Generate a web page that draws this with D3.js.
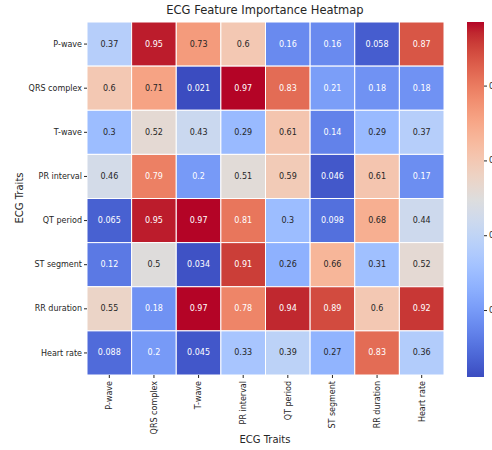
<!DOCTYPE html>
<html lang="en">
<head>
  <meta charset="UTF-8">
  <title>ECG Feature Importance Heatmap</title>
  <style>
    * { padding: 0; margin: 0; }
    body { background: #fff; }
    text { font-family: "DejaVu Sans", sans-serif; }
  </style>
</head>
<body>
  <script src="https://d3js.org/d3.v7.min.js"></script>
  <script>
    const traits = ['P-wave', 'QRS complex', 'T-wave', 'PR interval', 'QT period', 'ST segment', 'RR duration', 'Heart rate'];

    const pWave      = [0.37, 0.95, 0.73, 0.6, 0.16, 0.16, 0.058, 0.87];
    const qrsComplex = [0.6, 0.71, 0.021, 0.97, 0.83, 0.21, 0.18, 0.18];
    const tWave      = [0.3, 0.52, 0.43, 0.29, 0.61, 0.14, 0.29, 0.37];
    const prInterval = [0.46, 0.79, 0.2, 0.51, 0.59, 0.046, 0.61, 0.17];
    const qtPeriod   = [0.065, 0.95, 0.97, 0.81, 0.3, 0.098, 0.68, 0.44];
    const stSegment  = [0.12, 0.5, 0.034, 0.91, 0.26, 0.66, 0.31, 0.52];
    const rrDuration = [0.55, 0.18, 0.97, 0.78, 0.94, 0.89, 0.6, 0.92];
    const heartRate  = [0.088, 0.2, 0.045, 0.33, 0.39, 0.27, 0.83, 0.36];

    const rows = [pWave, qrsComplex, tWave, prInterval, qtPeriod, stSegment, rrDuration, heartRate];
    const colorbarTicks = [0.2, 0.4, 0.6, 0.8];

    // matplotlib coolwarm, 33 samples
    const coolwarm = [
      [59,76,192],[68,90,204],[77,104,215],[87,117,225],[98,130,234],[108,142,241],[119,154,247],[130,165,251],
      [141,176,254],[152,185,255],[163,194,255],[174,201,253],[184,208,249],[194,213,244],[204,217,238],[213,219,230],
      [221,221,221],[229,216,209],[236,211,197],[241,204,185],[245,196,173],[247,187,160],[247,177,148],[247,166,135],
      [244,154,123],[241,141,111],[236,127,99],[229,112,88],[222,96,77],[213,80,66],[203,62,56],[192,40,47],[180,4,38]
    ].map(c => d3.rgb(c[0], c[1], c[2]).formatHex());

    const cells = [];
    rows.forEach((vals, r) => vals.forEach((v, c) => cells.push({ row: traits[r], col: traits[c], value: v })));

    const vmin = d3.min(cells, d => d.value);
    const vmax = d3.max(cells, d => d.value);

    const width = 492, height = 450;
    const margin = { left: 87, top: 22, right: 48, bottom: 75 };

    const svg = d3.select('body').append('svg')
      .attr('width', width)
      .attr('height', height);

    const x = d3.scaleBand().domain(traits).range([margin.left, 444]);
    const y = d3.scaleBand().domain(traits).range([margin.top, 375]);

    const norm = d3.scaleLinear().domain([vmin, vmax]).range([0, 1]).clamp(true);
    const cmap = d3.scaleLinear()
      .domain(coolwarm.map((_, i) => i / (coolwarm.length - 1)))
      .range(coolwarm)
      .interpolate(d3.interpolateRgb);
    const color = v => cmap(norm(v));

    const lum = hex => {
      const c = d3.rgb(hex);
      const f = u => { u /= 255; return u <= 0.03928 ? u / 12.92 : Math.pow((u + 0.055) / 1.055, 2.4); };
      return 0.2126 * f(c.r) + 0.7152 * f(c.g) + 0.0722 * f(c.b);
    };

    svg.append('g')
      .selectAll('rect')
      .data(cells)
      .join('rect')
      .attr('x', d => x(d.col))
      .attr('y', d => y(d.row))
      .attr('width', x.bandwidth())
      .attr('height', y.bandwidth())
      .attr('fill', d => color(d.value))
      .attr('stroke', '#fff')
      .attr('stroke-width', 1);

    svg.append('g')
      .selectAll('text')
      .data(cells)
      .join('text')
      .attr('x', d => x(d.col) + x.bandwidth() / 2)
      .attr('y', d => y(d.row) + y.bandwidth() / 2)
      .attr('text-anchor', 'middle')
      .attr('dominant-baseline', 'central')
      .attr('font-size', 8)
      .attr('fill', d => lum(color(d.value)) > 0.408 ? '#262626' : '#ffffff')
      .text(d => d.value);

    const xAxis = svg.append('g')
      .attr('transform', `translate(0,375)`)
      .call(d3.axisBottom(x).tickSize(3).tickPadding(2));
    xAxis.select('.domain').remove();
    xAxis.selectAll('.tick line').attr('stroke', '#262626');
    xAxis.selectAll('.tick text')
      .attr('font-size', 8)
      .attr('fill', '#262626')
      .attr('font-family', '"DejaVu Sans", sans-serif')
      .attr('transform', 'rotate(-90)')
      .attr('text-anchor', 'end')
      .attr('dy', '0.35em')
      .attr('x', -6)
      .attr('y', 0);

    const yAxis = svg.append('g')
      .attr('transform', `translate(${margin.left},0)`)
      .call(d3.axisLeft(y).tickSize(3).tickPadding(2));
    yAxis.select('.domain').remove();
    yAxis.selectAll('.tick line').attr('stroke', '#262626');
    yAxis.selectAll('.tick text')
      .attr('font-size', 8)
      .attr('fill', '#262626')
      .attr('font-family', '"DejaVu Sans", sans-serif');

    svg.append('text')
      .attr('x', 265)
      .attr('y', 14)
      .attr('text-anchor', 'middle')
      .attr('font-size', 11.5)
      .attr('fill', '#262626')
      .text('ECG Feature Importance Heatmap');

    svg.append('text')
      .attr('x', 265)
      .attr('y', 443)
      .attr('text-anchor', 'middle')
      .attr('font-size', 10)
      .attr('fill', '#262626')
      .text('ECG Traits');

    svg.append('text')
      .attr('transform', 'translate(23,198) rotate(-90)')
      .attr('text-anchor', 'middle')
      .attr('font-size', 10)
      .attr('fill', '#262626')
      .text('ECG Traits');

    // colorbar
    const cbX = 467, cbW = 17;
    const cbY = d3.scaleLinear().domain([vmin, vmax]).range([377, 22]);

    const grad = svg.append('defs').append('linearGradient')
      .attr('id', 'cb')
      .attr('x1', 0).attr('y1', 1).attr('x2', 0).attr('y2', 0);
    grad.selectAll('stop')
      .data(coolwarm)
      .join('stop')
      .attr('offset', (d, i) => i / (coolwarm.length - 1))
      .attr('stop-color', d => d);

    svg.append('rect')
      .attr('x', cbX)
      .attr('y', cbY(vmax))
      .attr('width', cbW)
      .attr('height', cbY(vmin) - cbY(vmax))
      .attr('fill', 'url(#cb)');

    const cbAxis = svg.append('g')
      .attr('transform', `translate(${cbX + cbW},0)`)
      .call(d3.axisRight(cbY).tickValues(colorbarTicks).tickSize(3).tickPadding(2).tickFormat(d3.format('.1f')));
    cbAxis.select('.domain').remove();
    cbAxis.selectAll('.tick line').attr('stroke', '#262626');
    cbAxis.selectAll('.tick text')
      .attr('font-size', 8)
      .attr('fill', '#262626')
      .attr('font-family', '"DejaVu Sans", sans-serif');
  </script>
</body>
</html>
